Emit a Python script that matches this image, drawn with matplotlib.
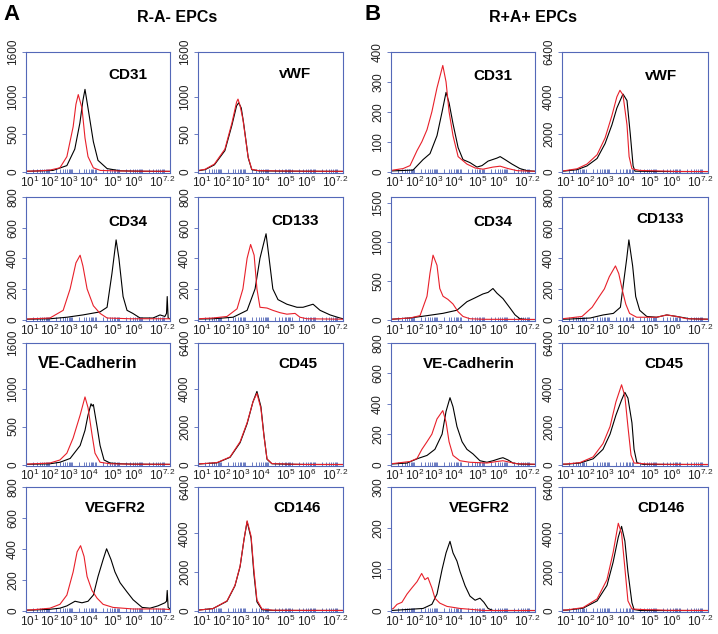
import numpy as np
import matplotlib.pyplot as plt
import matplotlib.transforms as mtransforms
from matplotlib.ticker import FixedLocator, LogLocator, NullFormatter

plt.rcParams['font.family'] = ['Liberation Sans', 'DejaVu Sans']
plt.rcParams['mathtext.fontset'] = 'custom'
plt.rcParams['mathtext.rm'] = 'Liberation Sans'
plt.rcParams['mathtext.default'] = 'regular'

# histogram traces, (log10 intensity, count)
# --- A: R-A- EPCs ---
a_cd31_red = [(1.0, 5), (1.5, 8), (2.03, 20), (2.46, 50), (2.76, 200), (3.03, 600), (3.15, 900), (3.25, 1030),
              (3.41, 850), (3.54, 450), (3.67, 200), (3.9, 50), (4.2, 15), (5.0, 8), (6.0, 5), (7.2, 3)]
a_cd31_blk = [(1.0, 3), (2.16, 15), (2.76, 80), (3.1, 300), (3.32, 650), (3.45, 950), (3.54, 1100), (3.67, 850),
              (3.9, 400), (4.1, 150), (4.49, 40), (5.05, 10), (6.0, 4), (7.2, 2)]
a_vwf_red = [(1.0, 15), (1.3, 30), (1.7, 100), (2.15, 300), (2.45, 650), (2.65, 930), (2.71, 970), (2.8, 880),
             (2.92, 700), (3.14, 200), (3.3, 30), (3.6, 12), (4.5, 8), (5.5, 5), (7.2, 3)]
a_vwf_blk = [(1.0, 10), (1.3, 25), (1.7, 90), (2.15, 280), (2.45, 620), (2.65, 880), (2.74, 920), (2.85, 850),
             (2.95, 650), (3.15, 180), (3.3, 25), (3.6, 10), (4.5, 6), (7.2, 2)]
a_cd34_red = [(1.0, 3), (2.03, 10), (2.6, 60), (2.9, 200), (3.15, 370), (3.33, 420), (3.45, 350), (3.63, 200),
              (3.9, 90), (4.19, 40), (4.49, 10), (5.5, 5), (7.2, 5)]
a_cd34_blk = [(1.0, 2), (2.03, 5), (2.76, 15), (3.45, 30), (4.19, 50), (4.49, 80), (4.7, 300), (4.88, 520),
              (5.0, 400), (5.18, 150), (5.35, 60), (5.6, 40), (5.91, 10), (6.47, 10), (6.77, 30), (6.98, 20),
              (7.05, 40), (7.08, 150), (7.12, 10), (7.2, 5)]
a_cd133_red = [(1.0, 5), (1.64, 10), (2.24, 20), (2.67, 70), (2.92, 200), (3.1, 400), (3.25, 490), (3.4, 420),
               (3.52, 200), (3.65, 80), (3.95, 75), (4.2, 60), (4.5, 45), (4.8, 35), (5.15, 40), (5.36, 15),
               (5.66, 5), (7.2, 2)]
a_cd133_blk = [(1.0, 3), (1.64, 5), (2.5, 15), (3.1, 60), (3.44, 200), (3.65, 400), (3.91, 560), (4.04, 400),
               (4.2, 200), (4.42, 130), (4.8, 100), (5.23, 80), (5.49, 80), (5.92, 100), (6.22, 60), (6.65, 30),
               (7.07, 10), (7.2, 5)]
a_vecad_red = [(1.0, 5), (2.03, 20), (2.46, 60), (2.76, 150), (3.03, 350), (3.33, 650), (3.54, 890), (3.67, 750),
               (3.84, 400), (3.97, 150), (4.19, 30), (4.62, 10), (5.5, 5), (7.2, 3)]
a_vecad_blk = [(1.0, 3), (2.03, 10), (2.46, 30), (2.9, 80), (3.33, 250), (3.54, 450), (3.67, 650), (3.8, 800),
               (3.85, 770), (3.9, 790), (4.06, 500), (4.19, 250), (4.36, 60), (4.62, 20), (5.05, 10), (5.6, 5),
               (7.2, 2)]
a_cd45_red = [(1.0, 30), (1.81, 100), (2.37, 400), (2.8, 1200), (3.1, 2200), (3.35, 3300), (3.52, 3750),
              (3.69, 2950), (3.82, 1500), (3.95, 300), (4.16, 50), (4.93, 20), (5.6, 5), (7.2, 2)]
a_cd45_blk = [(1.0, 25), (1.81, 90), (2.37, 380), (2.8, 1150), (3.1, 2150), (3.35, 3300), (3.52, 3850),
              (3.69, 3050), (3.82, 1550), (3.95, 280), (4.16, 40), (4.93, 15), (5.6, 4), (7.2, 2)]
a_vegfr2_red = [(1.0, 3), (1.3, 5), (2.03, 15), (2.46, 40), (2.76, 100), (3.03, 250), (3.2, 380), (3.35, 420),
                (3.5, 350), (3.63, 220), (3.84, 130), (4.06, 80), (4.32, 40), (4.75, 20), (5.61, 10), (6.64, 10),
                (7.07, 8), (7.2, 5)]
a_vegfr2_blk = [(1.0, 2), (1.3, 3), (2.03, 8), (2.46, 15), (2.76, 30), (3.11, 60), (3.41, 50), (3.67, 60),
                (3.9, 100), (4.1, 220), (4.32, 330), (4.47, 400), (4.66, 330), (4.83, 250), (5.05, 180),
                (5.35, 120), (5.61, 70), (6.0, 20), (6.34, 15), (6.68, 30), (6.98, 50), (7.05, 60), (7.08, 130),
                (7.12, 20), (7.2, 10)]
a_cd146_red = [(1.0, 20), (1.64, 100), (2.24, 500), (2.58, 1300), (2.8, 2300), (2.97, 3700), (3.1, 4650),
               (3.27, 3850), (3.39, 2100), (3.52, 550), (3.74, 70), (4.2, 15), (5.0, 8), (7.2, 3)]
a_cd146_blk = [(1.0, 20), (1.64, 100), (2.24, 480), (2.58, 1280), (2.8, 2280), (2.97, 3700), (3.1, 4600),
               (3.27, 3750), (3.39, 1900), (3.52, 450), (3.74, 40), (4.2, 8), (5.0, 4), (7.2, 2)]

# --- B: R+A+ EPCs ---
b_cd31_red = [(1.0, 3), (1.09, 5), (1.52, 10), (1.82, 20), (2.12, 70), (2.33, 100), (2.55, 140), (2.76, 200),
              (2.98, 280), (3.23, 355), (3.37, 300), (3.5, 200), (3.67, 120), (3.89, 50), (4.27, 25), (4.62, 12),
              (4.96, 8), (5.39, 15), (5.7, 18), (6.04, 10), (6.43, 3), (7.2, 1)]
b_cd31_blk = [(1.0, 2), (1.95, 5), (2.38, 40), (2.68, 60), (2.98, 120), (3.2, 200), (3.37, 265), (3.5, 230),
              (3.67, 160), (3.89, 80), (4.1, 40), (4.4, 30), (4.7, 15), (4.92, 20), (5.18, 35), (5.56, 45),
              (5.7, 50), (5.91, 40), (6.21, 25), (6.55, 10), (6.86, 3), (7.2, 1)]
b_vwf_red = [(1.0, 30), (1.13, 50), (1.64, 150), (2.06, 400), (2.49, 900), (2.83, 1800), (3.12, 3000),
             (3.33, 4000), (3.46, 4350), (3.59, 4100), (3.76, 2500), (3.85, 800), (3.97, 150), (4.31, 60),
             (5.16, 30), (5.88, 5), (7.2, 2)]
b_vwf_blk = [(1.0, 20), (1.13, 30), (1.64, 100), (2.06, 300), (2.49, 700), (2.83, 1500), (3.12, 2500),
             (3.33, 3400), (3.59, 4150), (3.76, 3800), (3.9, 2000), (4.02, 300), (4.1, 20), (5.0, 5), (7.2, 0)]
b_cd34_red = [(1.0, 3), (1.09, 5), (1.82, 20), (2.25, 50), (2.55, 300), (2.68, 600), (2.81, 830), (2.98, 700),
              (3.1, 400), (3.24, 300), (3.45, 260), (3.67, 200), (3.89, 100), (4.1, 40), (4.4, 10), (5.0, 3),
              (7.2, 1)]
b_cd34_blk = [(1.0, 3), (1.09, 5), (1.82, 20), (2.55, 50), (3.24, 80), (3.84, 120), (4.27, 230), (4.62, 280),
              (4.96, 330), (5.18, 350), (5.39, 400), (5.56, 340), (5.82, 270), (6.12, 150), (6.34, 60),
              (6.55, 10), (6.86, 0), (7.2, 0)]
b_cd133_red = [(1.0, 5), (1.3, 10), (1.85, 20), (2.28, 80), (2.58, 150), (2.8, 200), (3.01, 280), (3.27, 350),
               (3.41, 300), (3.58, 180), (3.71, 100), (3.87, 40), (4.17, 15), (5.02, 15), (5.45, 30), (5.87, 20),
               (6.3, 5), (7.2, 2)]
b_cd133_blk = [(1.0, 2), (1.3, 3), (2.2, 10), (2.75, 30), (3.18, 40), (3.48, 80), (3.58, 200), (3.75, 400),
               (3.84, 520), (4.0, 350), (4.13, 150), (4.3, 60), (4.6, 20), (5.02, 15), (5.45, 30), (5.87, 20),
               (6.42, 5), (7.2, 2)]
b_vecad_red = [(1.0, 5), (1.82, 20), (2.12, 40), (2.33, 100), (2.55, 150), (2.76, 200), (2.98, 300), (3.23, 355),
               (3.37, 280), (3.5, 150), (3.67, 60), (3.97, 25), (4.4, 15), (5.13, 10), (5.56, 20), (5.82, 25),
               (6.12, 15), (6.43, 5), (7.2, 2)]
b_vecad_blk = [(1.0, 3), (1.69, 10), (2.16, 40), (2.55, 60), (2.89, 100), (3.2, 200), (3.37, 350), (3.54, 440),
               (3.67, 380), (3.84, 250), (4.06, 150), (4.27, 100), (4.53, 70), (4.83, 25), (5.13, 15), (5.39, 25),
               (5.69, 40), (5.82, 45), (6.04, 30), (6.25, 10), (6.55, 3), (7.2, 1)]
b_cd45_red = [(1.0, 20), (1.2, 30), (1.76, 100), (2.32, 400), (2.74, 1100), (3.04, 2000), (3.29, 3300),
              (3.53, 4200), (3.67, 3600), (3.8, 2000), (3.93, 500), (4.06, 80), (4.6, 30), (5.46, 10), (7.2, 2)]
b_cd45_blk = [(1.0, 15), (1.2, 20), (1.76, 80), (2.32, 300), (2.74, 800), (3.04, 1600), (3.29, 2600),
              (3.53, 3400), (3.67, 3800), (3.8, 3500), (3.97, 2200), (4.06, 800), (4.18, 100), (4.44, 10),
              (7.2, 0)]
b_vegfr2_red = [(1.0, 3), (1.1, 5), (1.26, 15), (1.47, 20), (1.69, 40), (1.9, 55), (2.12, 70), (2.32, 90),
                (2.46, 75), (2.59, 80), (2.76, 55), (2.89, 30), (3.1, 18), (3.41, 10), (3.97, 5), (4.4, 3),
                (5.0, 0), (7.2, 0)]
b_vegfr2_blk = [(1.0, 0), (1.82, 3), (2.38, 5), (2.76, 15), (2.98, 40), (3.2, 100), (3.37, 140), (3.54, 168),
                (3.67, 140), (3.84, 120), (3.97, 95), (4.19, 60), (4.4, 35), (4.62, 25), (4.83, 30), (5.0, 20),
                (5.18, 5), (5.39, 0), (7.2, 0)]
b_cd146_red = [(1.0, 20), (1.2, 30), (1.89, 150), (2.49, 600), (2.91, 1600), (3.17, 3000), (3.39, 4520),
               (3.53, 4000), (3.67, 2200), (3.8, 500), (3.97, 80), (4.6, 40), (4.86, 40), (5.46, 10), (7.2, 2)]
b_cd146_blk = [(1.0, 15), (1.2, 20), (1.89, 120), (2.49, 500), (2.91, 1300), (3.17, 2500), (3.39, 3800),
               (3.53, 4360), (3.67, 3600), (3.8, 2000), (3.97, 400), (4.06, 50), (4.3, 0), (7.2, 0)]

xtick_exp = [1, 2, 3, 4, 5, 6, 7.2]
xtick_labels = ['$10^{1}$', '$10^{2}$', '$10^{3}$', '$10^{4}$', '$10^{5}$', '$10^{6}$', '$10^{7.2}$']
# the labels in the source sit a few pixels off their ticks
xtick_shift_px = [4, 0, -4, -7, -6, -8, -8]

yt_1600 = [0, 500, 1000, 1600]
yt_800 = [0, 200, 400, 600, 800]
yt_6400 = [0, 2000, 4000, 6400]
yt_400 = [0, 100, 200, 300, 400]
yt_1500 = [0, 500, 1000, 1500]
yt_300 = [0, 100, 200, 300]

W, H = 718, 634
BLUE = '#5468b8'
RED = '#e8202a'

# column (left px, width px), row (top px, bottom px)
cols = [(26, 144), (198, 145), (391, 144), (562, 146)]
rows = [(52, 173), (197, 321), (343, 466), (487, 612)]

# (col, row, red, black, yticks, ytop, name, label x, label y, label size)
panels = [
    (0, 0, a_cd31_red, a_cd31_blk, yt_1600, 1600, 'CD31', 0.71, 0.81, 11),
    (1, 0, a_vwf_red, a_vwf_blk, yt_1600, 1600, 'vWF', 0.67, 0.82, 11),
    (0, 1, a_cd34_red, a_cd34_blk, yt_800, 800, 'CD34', 0.71, 0.80, 11),
    (1, 1, a_cd133_red, a_cd133_blk, yt_800, 800, 'CD133', 0.67, 0.81, 11),
    (0, 2, a_vecad_red, a_vecad_blk, yt_1600, 1600, 'VE-Cadherin', 0.43, 0.83, 12),
    (1, 2, a_cd45_red, a_cd45_blk, yt_6400, 6400, 'CD45', 0.69, 0.83, 11),
    (0, 3, a_vegfr2_red, a_vegfr2_blk, yt_800, 800, 'VEGFR2', 0.62, 0.83, 11),
    (1, 3, a_cd146_red, a_cd146_blk, yt_6400, 6400, 'CD146', 0.68, 0.83, 11),
    (2, 0, b_cd31_red, b_cd31_blk, yt_400, 400, 'CD31', 0.71, 0.80, 11),
    (3, 0, b_vwf_red, b_vwf_blk, yt_6400, 6400, 'vWF', 0.68, 0.80, 11),
    (2, 1, b_cd34_red, b_cd34_blk, yt_1500, 1580, 'CD34', 0.71, 0.80, 11),
    (3, 1, b_cd133_red, b_cd133_blk, yt_800, 800, 'CD133', 0.67, 0.82, 11),
    (2, 2, b_vecad_red, b_vecad_blk, yt_800, 800, 'VE-Cadherin', 0.54, 0.83, 11),
    (3, 2, b_cd45_red, b_cd45_blk, yt_6400, 6400, 'CD45', 0.70, 0.83, 11),
    (2, 3, b_vegfr2_red, b_vegfr2_blk, yt_300, 300, 'VEGFR2', 0.61, 0.83, 11),
    (3, 3, b_cd146_red, b_cd146_blk, yt_6400, 6400, 'CD146', 0.68, 0.83, 11),
]

fig = plt.figure(figsize=(W / 100, H / 100), dpi=100)

for ci, ri, red, blk, yt, ytop, name, lx, ly, lsize in panels:
    left, width = cols[ci]
    top, bottom = rows[ri]
    ax = fig.add_axes([left / W, 1 - bottom / H, width / W, (bottom - top) / H])

    for trace, col in ((blk, 'black'), (red, RED)):
        d = np.array([p[0] for p in trace])
        n = np.array([p[1] for p in trace])
        ax.plot(10 ** d, n, color=col, lw=0.8)

    ax.set_xscale('log')
    ax.set_xlim(10, 10 ** 7.2)
    ax.set_ylim(-0.012 * ytop, ytop)

    ax.xaxis.set_major_locator(FixedLocator([10 ** e for e in xtick_exp]))
    ax.xaxis.set_major_formatter(NullFormatter())
    ax.xaxis.set_minor_locator(LogLocator(base=10, subs=np.arange(2, 10), numticks=20))
    ax.xaxis.set_minor_formatter(NullFormatter())
    ax.tick_params(axis='x', which='both', direction='in', color=BLUE, length=3, width=0.6)

    # x labels drawn by hand so they can be nudged like the source
    xform = mtransforms.blended_transform_factory(ax.transData, ax.transAxes)
    for e, lab, dx in zip(xtick_exp, xtick_labels, xtick_shift_px):
        tr = xform + mtransforms.ScaledTranslation(dx / 100, -2 / 100, fig.dpi_scale_trans)
        ax.text(10 ** e, 0, lab, transform=tr, ha='center', va='top', fontsize=8.5,
                color='#222222', clip_on=False)

    ax.set_yticks(yt)
    ax.set_yticklabels([str(v) for v in yt], rotation=90, va='center')
    ax.tick_params(axis='y', direction='out', color=BLUE, length=3, width=0.6,
                   labelsize=8.5, pad=2, labelcolor='#222222')

    for sp in ax.spines.values():
        sp.set_color(BLUE)
        sp.set_linewidth(0.8)

    ax.text(lx, ly, name, transform=ax.transAxes, ha='center', va='center',
            fontsize=lsize, fontweight='bold')

fig.text(12 / W, 1 - 15 / H, 'A', ha='center', va='center', fontsize=16, fontweight='bold')
fig.text(177 / W, 1 - 18 / H, 'R-A- EPCs', ha='center', va='center', fontsize=11.5, fontweight='bold')
fig.text(373 / W, 1 - 15 / H, 'B', ha='center', va='center', fontsize=16, fontweight='bold')
fig.text(533 / W, 1 - 18 / H, 'R+A+ EPCs', ha='center', va='center', fontsize=11.5, fontweight='bold')

fig.savefig('out.png', dpi=100)
